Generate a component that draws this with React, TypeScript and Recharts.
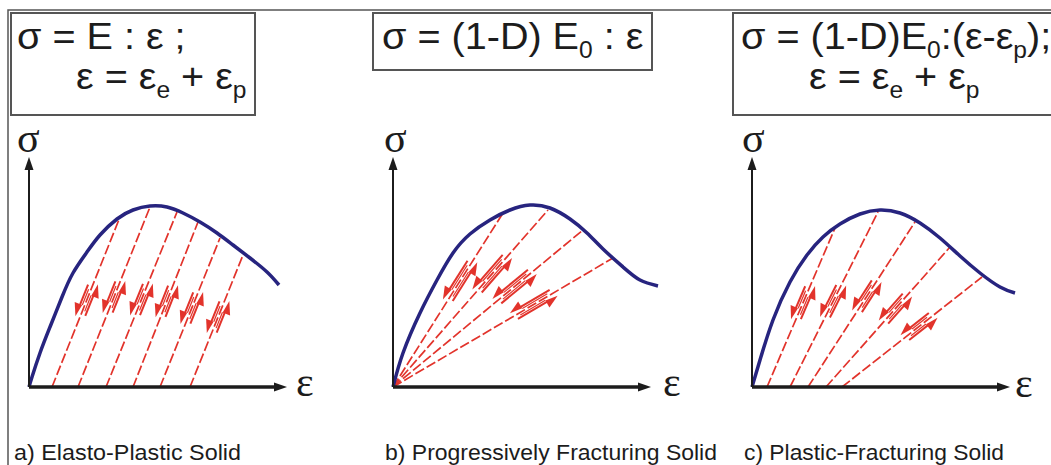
import { ComposedChart, Line, XAxis, YAxis, ReferenceLine, Scatter } from 'recharts'

const RED = '#e2332b'
const NAVY = '#27247f'
const INK = '#1c1c1c'
const FRAME = '#555'

// every panel: strain ε to the right, stress σ up, same arbitrary units (1 unit ≈ 1 px)
const AXIS_EPS = 258
const AXIS_SIG = 230

// a) elasto-plastic
const curveA: [number, number][] = [
  [0, 0], [3, 10], [11, 34], [21, 60], [33, 90], [44, 114], [58, 135], [71, 152], [88, 168],
  [104, 177], [121, 181], [138, 180], [154, 174], [171, 165], [188, 154], [204, 142],
  [221, 129], [238, 115], [250, 102],
]
const footA = [23, 49, 77, 104, 131, 161]
const topEpsA = [91, 121, 148, 169, 191, 214]
const topSigA = [170, 180, 175, 165, 149, 132]
const slipAtA = [0.51, 0.5, 0.5, 0.52, 0.53, 0.53]

// b) progressively fracturing
const curveB: [number, number][] = [
  [0, 0], [10, 34], [27, 74], [44, 107], [60, 134], [77, 153], [97, 167], [117, 177],
  [137, 182], [157, 179], [177, 168], [194, 154], [210, 138], [230, 120], [247, 107], [265, 101],
]
const footB = [0, 0, 0, 0]
const topEpsB = [110, 155, 190, 220]
const topSigB = [174, 177, 157, 129]
const slipAtB = [0.61, 0.64, 0.64, 0.64]

// c) plastic-fracturing
const curveC: [number, number][] = [
  [0, 0], [8, 27], [21, 67], [38, 105], [55, 132], [71, 150], [88, 163], [108, 173],
  [128, 177], [148, 174], [168, 164], [188, 149], [208, 131], [228, 114], [248, 100], [263, 94],
]
const footC = [15, 38, 56, 74, 90]
const topEpsC = [83, 126, 163, 198, 230]
const topSigC = [159, 175, 165, 140, 110]
const slipAtC = [0.53, 0.49, 0.55, 0.56, 0.55]

function Slip(props: any) {
  const { cx, cy, payload } = props
  const h = payload.len / 2
  const o = 4.5
  return (
    <g transform={`translate(${cx},${cy}) rotate(${payload.ang})`} fill={RED} stroke={RED}>
      <line x1={-h + 6} y1={-o} x2={h} y2={-o} strokeWidth={2} />
      <line x1={-h + 9} y1={-o + 2.2} x2={h - 4} y2={-o + 2.2} strokeWidth={1.2} />
      <polygon points={`${-h - 4},${-o} ${-h + 9},${-o - 6} ${-h + 9},${-o + 2}`} stroke="none" />
      <line x1={-h} y1={o} x2={h - 6} y2={o} strokeWidth={2} />
      <line x1={-h + 4} y1={o - 2.2} x2={h - 9} y2={o - 2.2} strokeWidth={1.2} />
      <polygon points={`${h + 4},${o} ${h - 9},${o + 6} ${h - 9},${o - 2}`} stroke="none" />
    </g>
  )
}

function Arrow(props: any) {
  const { x1, y1, x2, y2, w } = props
  const len = Math.hypot(x2 - x1, y2 - y1) || 1
  const ux = (x2 - x1) / len, uy = (y2 - y1) / len
  const hl = 13, hw = 4.5
  const bx = x2 - ux * hl, by = y2 - uy * hl
  return (
    <g>
      <line x1={x1} y1={y1} x2={bx + ux * 2} y2={by + uy * 2} stroke={INK} strokeWidth={w} />
      <polygon
        points={`${x2},${y2} ${bx - uy * hw},${by + ux * hw} ${bx + uy * hw},${by - ux * hw}`}
        fill={INK}
      />
    </g>
  )
}

interface PanelProps {
  left: number
  curve: [number, number][]
  feet: number[]
  topEps: number[]
  topSig: number[]
  slipAt: number[]
  slipLen: number
}

function Panel({ left, curve, feet, topEps, topSig, slipAt, slipLen }: PanelProps) {
  const curveData = curve.map(([e, s]) => ({ e, s }))
  const lines = topEps.map((e, i) => [{ e: feet[i], s: 0 }, { e, s: topSig[i] }])
  const slips = topEps.map((e, i) => {
    const de = e - feet[i]
    const ds = topSig[i]
    const t = slipAt[i]
    return { e: feet[i] + t * de, s: t * ds, ang: (-Math.atan2(ds, de) * 180) / Math.PI, len: slipLen }
  })
  return (
    <div style={{ position: 'absolute', left: left - 10, top: 137 }}>
      <ComposedChart width={310} height={260} margin={{ top: 10, right: 10, bottom: 10, left: 10 }}>
        <XAxis type="number" dataKey="e" domain={[0, 290]} hide />
        <YAxis type="number" dataKey="s" domain={[0, 240]} hide />
        {lines.map((d, i) => (
          <Line
            key={i}
            data={d}
            dataKey="s"
            stroke={RED}
            strokeWidth={1.7}
            strokeDasharray="10 3"
            dot={false}
            isAnimationActive={false}
          />
        ))}
        <Line
          data={curveData}
          dataKey="s"
          type="natural"
          stroke={NAVY}
          strokeWidth={3.5}
          dot={false}
          isAnimationActive={false}
        />
        <Scatter data={slips} dataKey="s" shape={Slip} isAnimationActive={false} />
        <ReferenceLine
          segment={[{ x: 0, y: 0 }, { x: 0, y: AXIS_SIG }]}
          shape={(p: any) => <Arrow {...p} w={2} />}
        />
        <ReferenceLine
          segment={[{ x: 0, y: 0 }, { x: AXIS_EPS, y: 0 }]}
          shape={(p: any) => <Arrow {...p} w={3.5} />}
        />
      </ComposedChart>
    </div>
  )
}

const SANS = "'Liberation Sans', Arial, sans-serif"
const SERIF = "'Liberation Serif', 'Times New Roman', serif"
const NARROW = "'Liberation Sans Narrow', 'Liberation Sans', Arial, sans-serif"

// formula lines are a little wider than the plain font, stretch them horizontally
const at = (x: number, y: number) => `translate(${x},${y}) scale(1.07,1)`

export default function App() {
  const fs = 37
  const ss = 23
  return (
    <div
      style={{
        position: 'absolute', left: 0, top: 0, width: 1051, height: 465,
        overflow: 'hidden', background: '#fff',
      }}
    >
      <svg width={1051} height={465} style={{ position: 'absolute', left: 0, top: 0 }}>
        <path d="M8,465 L8,10 L1051,10" fill="none" stroke={FRAME} strokeWidth={1.5} />
        <rect x={11} y={13} width={244} height={102} fill="none" stroke={FRAME} strokeWidth={2} />
        <rect x={373} y={13} width={279} height={57} fill="none" stroke={FRAME} strokeWidth={2} />
        <rect x={733} y={13} width={340} height={102} fill="none" stroke={FRAME} strokeWidth={2} />

        <g fontFamily={SANS} fontSize={fs} fill={INK} style={{ whiteSpace: 'pre' }}>
          <text transform={at(17, 49)}>σ = E : ε ;</text>
          <text transform={at(76, 89)}>
            ε = ε<tspan fontSize={ss} dy={9}>e</tspan>
            <tspan dy={-9}> + ε</tspan>
            <tspan fontSize={ss} dy={9}>p</tspan>
          </text>

          <text transform={at(382, 49)}>
            σ = (1-D) E<tspan fontSize={ss} dy={9}>0</tspan>
            <tspan dy={-9}> : ε</tspan>
          </text>

          <text transform={at(741, 49)}>
            σ = (1-D)E<tspan fontSize={ss} dy={9}>0</tspan>
            <tspan dy={-9}>:(ε-ε</tspan>
            <tspan fontSize={ss} dy={9}>p</tspan>
            <tspan dy={-9}>);</tspan>
          </text>
          <text transform={at(809, 89)}>
            ε = ε<tspan fontSize={ss} dy={9}>e</tspan>
            <tspan dy={-9}> + ε</tspan>
            <tspan fontSize={ss} dy={9}>p</tspan>
          </text>
        </g>

        <g fontFamily={SERIF} fontSize={42} fill={INK}>
          <text x={17} y={152}>σ</text>
          <text x={384} y={152}>σ</text>
          <text x={742} y={152}>σ</text>
          <text x={296} y={396}>ε</text>
          <text x={663} y={396}>ε</text>
          <text x={1015} y={397}>ε</text>
        </g>

        <g fontFamily={NARROW} fontSize={22} fill={INK}>
          <text x={14} y={460} textLength={227} lengthAdjust="spacingAndGlyphs">a) Elasto-Plastic Solid</text>
          <text x={385} y={460} textLength={332} lengthAdjust="spacingAndGlyphs">b) Progressively Fracturing Solid</text>
          <text x={744} y={460} textLength={260} lengthAdjust="spacingAndGlyphs">c) Plastic-Fracturing Solid</text>
        </g>
      </svg>

      <Panel left={29} curve={curveA} feet={footA} topEps={topEpsA} topSig={topSigA} slipAt={slipAtA} slipLen={30} />
      <Panel left={393} curve={curveB} feet={footB} topEps={topEpsB} topSig={topSigB} slipAt={slipAtB} slipLen={42} />
      <Panel left={752} curve={curveC} feet={footC} topEps={topEpsC} topSig={topSigC} slipAt={slipAtC} slipLen={32} />
    </div>
  )
}
